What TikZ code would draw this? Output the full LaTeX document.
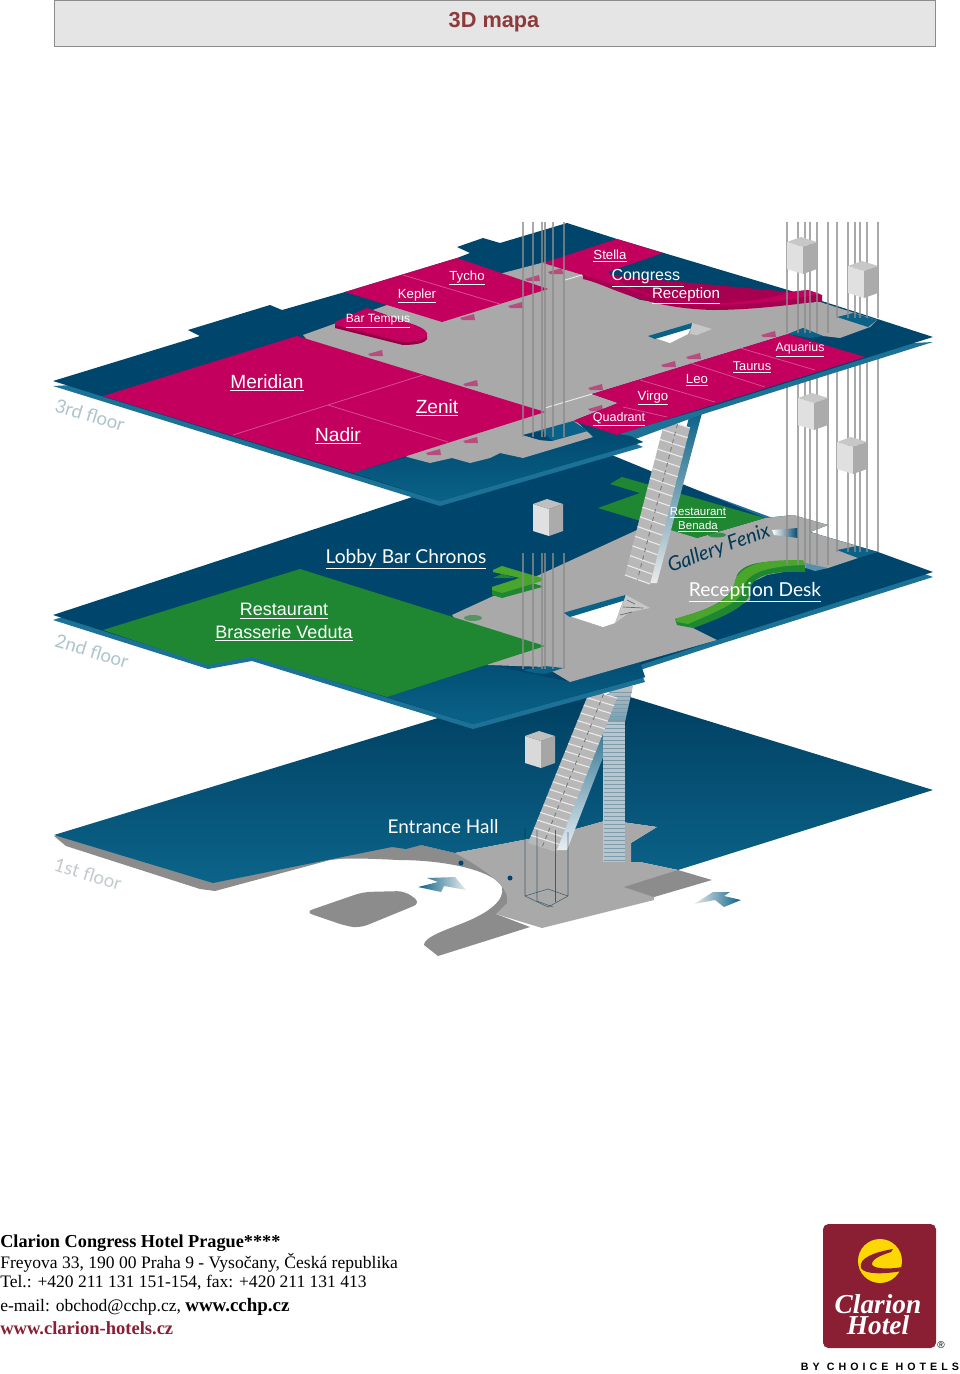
\documentclass[tikz,border=0pt]{standalone}
\usepackage{fontspec}
\setmainfont{Liberation Serif}
\newfontfamily\roomfont{Liberation Sans}
\newfontfamily\signfont{Lato}
\newfontfamily\choicefont[LetterSpace=38]{Liberation Sans}
\usetikzlibrary{calc}

\definecolor{navy}{HTML}{00466C}
\definecolor{teal}{HTML}{0A6288}
\definecolor{rim}{HTML}{1B7196}
\definecolor{magenta}{HTML}{C4005E}
\definecolor{plumb}{HTML}{A9A9A9}
\definecolor{road}{HTML}{8C8C8C}
\definecolor{lawn}{HTML}{1F8732}
\definecolor{leaf}{HTML}{4AA52C}
\definecolor{wine}{HTML}{8A1F33}
\definecolor{heading}{HTML}{8C3A3A}
\definecolor{flight}{HTML}{B5C6CF}
\definecolor{tread}{HTML}{7F9AA8}

\tikzset{
	room/.style={text=white,inner sep=0pt,font=\roomfont\fontsize{#1}{#1}\selectfont},
	sign/.style={text=white,inner sep=0pt,font=\signfont\fontsize{#1}{#1}\selectfont},
	floorname/.style={text=black!25!rim!35,inner sep=0pt,rotate=-17,font=\signfont\fontsize{14}{14}\selectfont},
	address/.style={inner sep=0pt,anchor=west,font=\fontsize{13.15}{13.15}\selectfont},
	divider/.style={color=magenta!70!white,line width=0.6pt},
	shaft/.style={color=black!45,opacity=0.75,line width=0.8pt}
}

\begin{document}
\begin{tikzpicture}[x=0.75pt,y=-0.75pt]

\useasboundingbox (0,0) rectangle (960,1374);

\fill[color=black!10,draw=black!45,line width=0.5pt] (54,0) rectangle (935,46);
\node (title) at (494,22) [inner sep=0pt,text=heading,font=\roomfont\bfseries\fontsize{16.3}{16.3}\selectfont] {3D mapa};

% 1st floor
\fill[color=road] (54,836)--(66,846)--(200,889)--(215,891)--(330,860)--(400,852)--(405,845)--(300,840)--cycle;
\fill[color=road] (392,847)--(421,845)--(455,853)--(547,882)--(527,902)--(496,914)--(530,927)--(438,956)--(424,945)
	.. controls (424,938) and (440,932) .. (458,925)
	.. controls (490,913) and (505,900) .. (502,887)
	.. controls (495,872) and (450,860) .. (398,860)
	.. controls (360,858) and (340,858) .. (329,860)--cycle;
\shade[top color=navy!90!black,bottom color=teal!90!rim] (54,835)--(438,718)--(617,693)--(933,790)--(678,870)--(640,862)--(631,862)--(631,843)--(657,827)--(608,820)--(565,832)--(455,853)--(421,845)--(406,849)--(392,847)--(213,883)--cycle;
\fill[color=plumb] (608,820)--(657,827)--(631,843)--(631,862)--(640,862)--(678,870)--(654,897)--(654,900)--(542,928)--(496,914)--(507,903)
	.. controls (510,890) and (495,875) .. (455,853)--(565,832)--cycle;
\fill[color=road] (678,870)--(712,880)--(654,897)--(624,887)--cycle;
\fill[color=road,rounded corners=6pt] (305,912)--(363,892)--(405,891)--(421,903)--(360,928)--(346,926)--cycle;
\fill[color=navy] (461,863) circle[radius=2.5];
\fill[color=navy] (510,878) circle[radius=2.5];
\shade[left color=teal,right color=black!8] (418,887)--(438,882)--(427,878)--(455,877)--(466,890)--(444,886)--(441,892)--cycle;
\shade[left color=black!8,right color=teal] (694,904)--(713,892)--(730,892)--(724,896)--(741,900)--(724,907)--(715,900)--cycle;

\foreach \x/\y in {525/731}{
	\fill[color=black!15] (\x,\y+5)--(\x+16,\y+10)--(\x+16,\y+37)--(\x,\y+32)--cycle;
	\fill[color=black!25] (\x,\y+5)--(\x+14,\y)--(\x+30,\y+5)--(\x+16,\y+10)--cycle;
	\fill[color=black!35] (\x+16,\y+10)--(\x+30,\y+5)--(\x+30,\y+32)--(\x+16,\y+37)--cycle;
}

% stairs up to the 2nd floor
\shade[top color=teal!60!navy,bottom color=black!10!teal!10] (617,698)--(626,698)--(567,850)--(552,850)--cycle;
\shade[top color=black!25,bottom color=rim!65!white] (610,686)--(633,686)--(625,722)--(603,722)--cycle;
\fill[color=flight] (603,722) rectangle (625,862);
\foreach \y in {692,696,...,862}{
	\draw[color=tread,line width=0.4pt] ({603+max(\y-722,0)*0.01+min(\y-722,0)*-0.23},\y)--({625+min(\y-722,0)*-0.23},\y);
}
\coordinate (lowA) at (590,690);
\coordinate (lowB) at (617,698);
\coordinate (lowC) at (556,852);
\coordinate (lowD) at (528,843);
\fill[color=black!28] (lowA)--(lowB)--(lowC)--(lowD)--cycle;
\foreach \t in {0,0.05,...,1}{
	\draw[color=black!8,line width=0.8pt] ($(lowA)!\t!(lowD)$)--($(lowB)!\t!(lowC)$);
}
\draw[color=black!55,dashed,line width=0.6pt] ($(lowA)!0.5!(lowB)$)--($(lowD)!0.5!(lowC)$);
\draw[color=navy!60!black,opacity=0.6,line width=0.4pt] (525,828)--(525,896)--(548,907)--(568,896)--(568,832);
\draw[color=navy!60!black,opacity=0.6,line width=0.4pt] (537,830)--(537,901)--(553,907);
\draw[color=navy!60!black,opacity=0.6,line width=0.4pt] (555,830)--(555,902);
\draw[color=navy!60!black,opacity=0.6,line width=0.4pt] (525,896)--(548,889)--(568,896);
\node (hall) at (443,827) [sign=14.2] {Entrance Hall};
\node (firstfloor) at (88,874) [floorname,text=rim!40!black!25] {1st floor};

% 2nd floor
\fill[color=rim] (53,620)--(580,447)--(933,577)--(717,645)--(640,670)--(645,682)--(473,729)--(252,661)--(208,669)--cycle;
\fill[color=navy] (53,615)--(580,442)--(765,518)--(793,515)--(828,525)--(810,532)--(878,552)--(933,572)--(717,640)--(640,665)--(645,677)--(473,724)--(252,656)--(208,664)--cycle;
\shade[top color=navy!70!teal,bottom color=teal] (387,697)--(488,665)--(523,672)--(570,682)--(640,662)--(645,677)--(473,724)--cycle;
\fill[color=plumb] (452,615)--(637,530)--(665,523)--(697,538)--(765,518)--(793,515)--(828,525)--(810,532)--(870,550)--(858,558)--(828,568)--(805,568)--(767,575)--(750,583)--(750,600)--(693,628)--(717,640)--(570,682)--(545,667)--(488,665)--cycle;
\fill[color=white] (563,614)--(625,595)--(615,623)--(603,627)--cycle;
\fill[color=teal] (563,613)--(625,595)--(626,600)--(570,617)--cycle;
\fill[color=black!22] (626,595)--(650,608)--(630,612)--(615,623)--cycle;
\foreach \x/\y/\X/\Y in {627/600/635/604,623/607/643/608,620/615/632/612}{
	\draw[color=black!60,line width=0.5pt] (\x,\y)--(\X,\Y);
}
\fill[color=teal] (523,670)--(545,666)--(563,668)--(545,674)--(535,673)--cycle;
\fill[color=teal!70!white] (805,563)--(828,568)--(815,571)--(806,568)--cycle;
\fill[color=teal] (837,550)--(857,546)--(878,552)--(858,558)--cycle;

\fill[color=lawn] (103,630)--(300,569)--(545,646)--(387,697)--(252,657)--(208,665)--cycle;
\fill[color=lawn] (610,484)--(622,477)--(765,518)--(697,538)--(598,508)--(640,493)--cycle;
\fill[color=lawn,opacity=0.6] (473,618) ellipse[x radius=9,y radius=3];
\fill[color=lawn,opacity=0.8] (717,535) ellipse[x radius=9,y radius=2.5];
\fill[color=lawn] (493,578)--(502,574)--(542,586)--(542,587)--(502,598)--(492,595)--(492,587)--(520,578)--cycle;
\fill[color=leaf] (493,570)--(502,566)--(542,578)--(542,581)--(502,593)--(492,590)--(492,587)--(520,578)--(493,572)--cycle;
\fill[color=lawn] (675,619) .. controls (705,610) and (733,603) .. (737,575)
	.. controls (745,560) and (775,560) .. (805,563)--(805,572)
	.. controls (780,571) and (752,573) .. (750,590)
	.. controls (752,604) and (725,617) .. (693,628)--(677,625)--cycle;
\fill[color=leaf] (675,619) .. controls (705,610) and (733,603) .. (735,580)
	.. controls (745,560) and (775,560) .. (803,560)--(805,565)
	.. controls (775,566) and (745,570) .. (743,590)
	.. controls (742,602) and (715,612) .. (688,624)--(677,622)--cycle;
\shade[left color=white,right color=navy] (772,530)--(798,528)--(798,538)--(774,535)--cycle;

\foreach \x in {523,533,542,545,553,564}{
	\draw[shaft] (\x,553)--(\x,669);
}
\foreach \x/\y in {533/499}{
	\fill[color=black!12] (\x,\y+5)--(\x+16,\y+10)--(\x+16,\y+37)--(\x,\y+32)--cycle;
	\fill[color=black!25] (\x,\y+5)--(\x+14,\y)--(\x+30,\y+5)--(\x+16,\y+10)--cycle;
	\fill[color=black!33] (\x+16,\y+10)--(\x+30,\y+5)--(\x+30,\y+32)--(\x+16,\y+37)--cycle;
}

% stairs up to the 3rd floor
\shade[top color=teal,bottom color=black!8] (690,413)--(702,413)--(657,583)--(648,583)--cycle;
\coordinate (upA) at (665,420);
\coordinate (upB) at (690,428);
\coordinate (upC) at (650,584);
\coordinate (upD) at (625,575);
\fill[color=black!28] (upA)--(upB)--(upC)--(upD)--cycle;
\foreach \t in {0,0.0625,...,1}{
	\draw[color=black!8,line width=0.8pt] ($(upA)!\t!(upD)$)--($(upB)!\t!(upC)$);
}
\draw[color=black!55,dashed,line width=0.6pt] ($(upA)!0.5!(upB)$)--($(upD)!0.5!(upC)$);

\node (chronos) at (406,559) [sign=14.4] {\underline{Lobby Bar Chronos}};
\node (veduta) at (284,611) [room=13.5] {\underline{Restaurant}};
\node (brasserie) at (284,633) [room=13.5] {\underline{Brasserie Veduta}};
\node (benada) at (698,513) [room=8.6] {\underline{Restaurant}};
\node (benadatwo) at (698,527) [room=8.6] {\underline{Benada}};
\node (fenix) at (719,549) [sign=15,rotate=20,text=navy!80!black,font=\signfont\itshape\fontsize{15}{15}\selectfont] {Gallery Fenix};
\node (desk) at (755,592) [sign=14.4] {\underline{Reception Desk}};
\node (secondfloor) at (92,651) [floorname] {2nd floor};

\foreach \x in {787,798,805,810,817,828}{
	\draw[shaft] (\x,345)--(\x,565);
}
\foreach \x in {837,848,855,860,867,878}{
	\draw[shaft] (\x,340)--(\x,552);
}
\foreach \x/\y in {798/393,837/437}{
	\fill[color=black!12] (\x,\y+5)--(\x+16,\y+10)--(\x+16,\y+37)--(\x,\y+32)--cycle;
	\fill[color=black!22] (\x,\y+5)--(\x+14,\y)--(\x+30,\y+5)--(\x+16,\y+10)--cycle;
	\fill[color=black!33] (\x+16,\y+10)--(\x+30,\y+5)--(\x+30,\y+32)--(\x+16,\y+37)--cycle;
}

% 3rd floor
\fill[color=rim] (53,386)--(933,342)--(700,415)--(630,441)--(643,447)--(440,506)--cycle;
\fill[color=navy] (53,381)--(200,336)--(188,330)--(270,305)--(282,310)--(345,292)--(457,258)--(470,253)--(457,247)--(483,238)--(500,243)--(567,223)--(617,239)--(788,290)--(933,337)--(700,410)--(617,434)--(630,436)--(643,442)--(440,501)--cycle;
\shade[top color=navy,bottom color=teal] (353,473)--(407,457)--(430,463)--(452,458)--(470,463)--(490,458)--(500,453)--(523,458)--(593,437)--(573,421)--(617,434)--(630,436)--(643,442)--(440,501)--cycle;
\fill[color=plumb] (303,335)--(387,305)--(420,285)--(503,273)--(545,262)--(583,275)--(640,300)--(700,307)--(820,302)--(877,320)--(870,327)--(840,338)--(823,336)--(803,328)--(788,334)--(592,394)--(618,403)--(575,420)--(593,437)--(523,458)--(500,453)--(490,458)--(470,463)--(452,458)--(430,463)--(407,457)--cycle;

\fill[color=magenta] (103,396)--(297,336)--(545,412)--(353,473)--cycle;
\draw[divider] (233,435)--(423,375);
\draw[divider] (328,405)--(448,442);
\fill[color=magenta] (345,292)--(457,258)--(548,289)--(442,322)--cycle;
\draw[divider] (403,275)--(500,304);
\fill[color=magenta!75!black] (335,325)--(367,311)--(415,328) .. controls (434,335) and (432,345) .. (403,345)--(335,328)--cycle;
\fill[color=magenta] (335,322)--(367,308)--(415,325) .. controls (434,332) and (432,342) .. (403,342)--(335,325)--cycle;
\fill[color=magenta!85!black] (583,273)--(583,279) .. controls (610,285) and (640,308) .. (713,310) .. controls (750,310) and (790,305) .. (822,301)--(822,295)--(808,290)--(790,292)--cycle;
\fill[color=magenta] (543,263)--(617,239)--(663,253)--(608,272) .. controls (625,290) and (665,302) .. (713,303) .. controls (750,303) and (780,296) .. (790,292)--(808,290)--(820,294) .. controls (790,300) and (750,305) .. (713,305) .. controls (660,303) and (620,285) .. (583,275)--cycle;
\fill[color=magenta] (592,394)--(788,334)--(865,357)--(617,435)--(573,421)--(618,403)--cycle;
\foreach \x/\y/\X/\Y in {815/370/740/348,765/387/690/363,715/402/640/380,667/417/623/407}{
	\draw[divider] (\x,\y)--(\X,\Y);
}
\foreach \x/\y in {467/317,375/353,470/383,433/452,470/440,532/278,555/271,515/305,595/387,595/408,668/364,693/356,768/334}{
	\fill[color=magenta,opacity=0.55] (\x-7,\y+1)--(\x+7,\y-3)--(\x+8,\y+3)--(\x-5,\y+3)--cycle;
}
\draw[color=black!8,line width=0.7pt] (565,280)--(582,275);
\draw[color=black!8,line width=0.7pt] (545,408)--(592,394);
\fill[color=teal] (523,435)--(573,421)--(588,431)--(552,441)--(540,440)--cycle;
\fill[color=navy] (523,435)--(542,431)--(552,441)--(540,440)--cycle;
\fill[color=teal] (788,334)--(803,328)--(823,336)--(810,338)--cycle;
\fill[color=teal] (837,317)--(853,313)--(877,320)--(868,327)--cycle;
\fill[color=white] (652,337)--(692,325)--(688,334)--(670,343)--cycle;
\fill[color=teal] (648,336)--(692,323)--(692,328)--(655,339)--cycle;
\fill[color=black!22] (692,323)--(712,329)--(697,335)--(690,334)--cycle;

\foreach \x in {523,533,542,545,553,564}{
	\draw[shaft] (\x,222)--(\x,437);
}
\foreach \x in {787,798,805,810,817,828}{
	\draw[shaft] (\x,222)--(\x,333);
}
\foreach \x in {837,848,855,860,867,878}{
	\draw[shaft] (\x,222)--(\x,318);
}
\foreach \x/\y in {787/237,848/261}{
	\fill[color=black!12] (\x,\y+5)--(\x+16,\y+10)--(\x+16,\y+37)--(\x,\y+32)--cycle;
	\fill[color=black!22] (\x,\y+5)--(\x+14,\y)--(\x+30,\y+5)--(\x+16,\y+10)--cycle;
	\fill[color=black!33] (\x+16,\y+10)--(\x+30,\y+5)--(\x+30,\y+32)--(\x+16,\y+37)--cycle;
}

\node (meridian) at (267,383) [room=14.3] {\underline{Meridian}};
\node (zenit) at (437,408) [room=14.3] {\underline{Zenit}};
\node (nadir) at (338,436) [room=14.3] {\underline{Nadir}};
\node (kepler) at (417,296) [room=9.9] {\underline{Kepler}};
\node (tycho) at (467,278) [room=9.9] {\underline{Tycho}};
\node (tempus) at (378,321) [room=9] {\underline{Bar Tempus}};
\node (stella) at (610,256) [room=9.9] {\underline{Stella}};
\node (congress) at (648,278) [room=12] {\underline{Congress\ }};
\node (reception) at (686,296) [room=11.3] {\underline{Reception}};
\node (aquarius) at (800,350) [room=9.3] {\underline{Aquarius}};
\node (taurus) at (752,367) [room=9.6] {\underline{Taurus}};
\node (leo) at (697,380) [room=9.9] {\underline{Leo}};
\node (virgo) at (653,398) [room=9.9] {\underline{Virgo}};
\node (quadrant) at (619,419) [room=9.4] {\underline{Quadrant}};
\node (thirdfloor) at (90,415) [floorname] {3rd floor};

% address and logo
\node (hotel) at (0,1243) [address] {\fontsize{13.7}{13.7}\selectfont\textbf{Clarion Congress Hotel Prague****}};
\node (street) at (0,1263) [address] {Freyova 33, 190 00 Praha 9 - Vysočany, Česká republika};
\node (phone) at (0,1283) [address] {Tel.: +420 211 131 151-154, fax: +420 211 131 413};
\node (mail) at (0,1307) [address] {e-mail: obchod@cchp.cz, \fontsize{14.2}{14.2}\selectfont\textbf{www.cchp.cz}};
\node (web) at (0,1328) [address,text=wine] {\fontsize{13.9}{13.9}\selectfont\textbf{www.clarion-hotels.cz}};

\fill[color=wine,rounded corners=4pt] (823,1224) rectangle (936,1348);
\fill[color=yellow!75!orange] (880,1261) circle[radius=22];
\fill[color=wine] (893,1249) .. controls (875,1252) and (858,1258) .. (861,1268)
	.. controls (865,1275) and (885,1274) .. (902,1271)--(902,1267)
	.. controls (885,1270) and (872,1268) .. (872,1264)
	.. controls (872,1258) and (885,1254) .. (891,1252)--cycle;
\node (clarion) at (878,1304) [inner sep=0pt,text=white,font=\bfseries\itshape\fontsize{20.5}{20.5}\selectfont] {Clarion};
\node (hotelword) at (878,1325) [inner sep=0pt,text=white,font=\bfseries\itshape\fontsize{20.5}{20.5}\selectfont] {Hotel};
\node (registered) at (941,1345) [inner sep=0pt,font=\roomfont\fontsize{7.5}{7.5}\selectfont] {®};
\node (choice) at (880,1367) [inner sep=0pt,font=\choicefont\bfseries\fontsize{8}{8}\selectfont] {BY CHOICE HOTELS};

\end{tikzpicture}
\end{document}
